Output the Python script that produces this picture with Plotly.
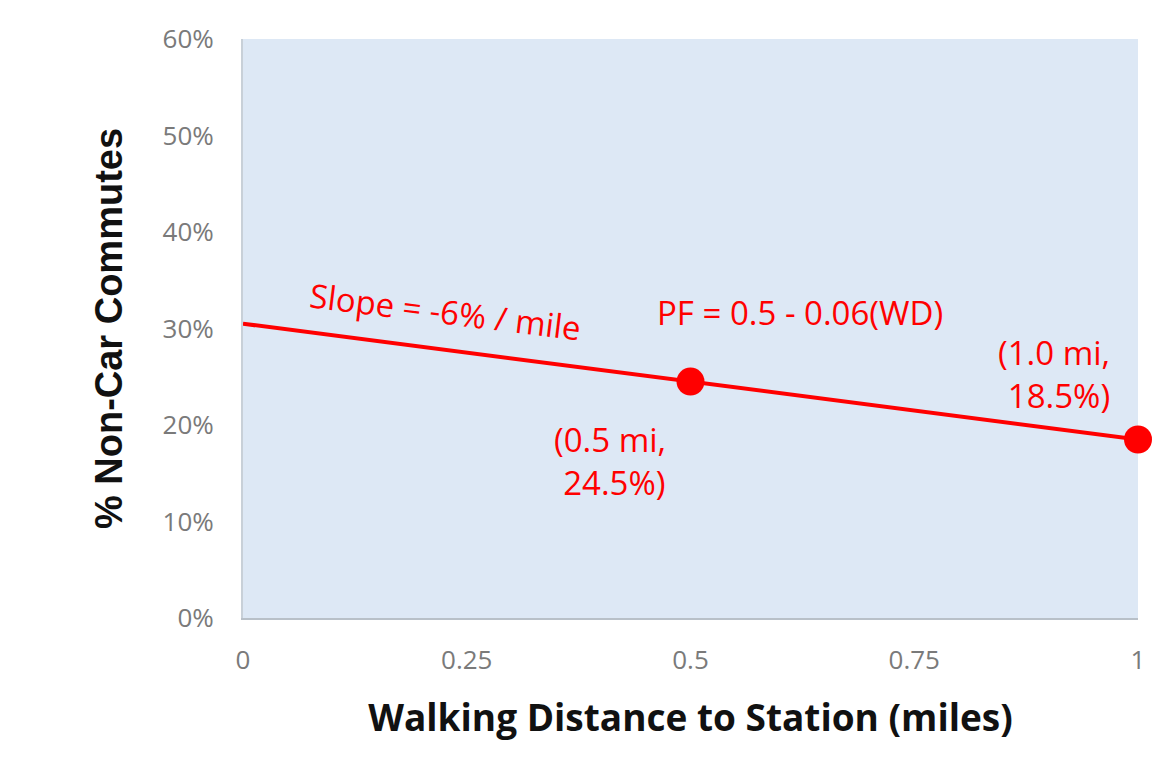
import plotly.graph_objects as go

# Data
line_x = [0, 0.5, 1.0]
line_y = [0.305, 0.245, 0.185]
point_x = [0.5, 1.0]
point_y = [0.245, 0.185]
x_ticks = [0, 0.25, 0.5, 0.75, 1]
x_tick_labels = ["0", "0.25", "0.5", "0.75", "1"]
y_ticks = [0, 0.1, 0.2, 0.3, 0.4, 0.5, 0.6]

RED = "#ff0000"
CAL = "Open Sans, Lato, sans-serif"

fig = go.Figure()
fig.add_trace(go.Scatter(x=line_x, y=line_y, mode="lines",
                         line=dict(color=RED, width=4), hoverinfo="skip",
                         cliponaxis=False, showlegend=False))
fig.add_trace(go.Scatter(x=point_x, y=point_y, mode="markers",
                         marker=dict(color=RED, size=28), cliponaxis=False,
                         showlegend=False))

ann_font = dict(family=CAL, size=33, color=RED)
fig.add_annotation(x=0.226, y=0.318, text="Slope = -6% / mile", showarrow=False,
                   textangle=7, font=ann_font, xref="x", yref="y")
fig.add_annotation(x=0.622, y=0.317, text="PF = 0.5 - 0.06(WD)", showarrow=False,
                   font=ann_font, xref="x", yref="y")
fig.add_annotation(x=0.906, y=0.253, text="(1.0 mi,<br>18.5%)", showarrow=False,
                   align="right", font=ann_font, xref="x", yref="y")
fig.add_annotation(x=0.41, y=0.163, text="(0.5 mi,<br> 24.5%)", showarrow=False,
                   align="center", font=ann_font, xref="x", yref="y")

fig.update_layout(
    width=1176, height=760,
    margin=dict(l=235, r=46, t=29, b=150),
    paper_bgcolor="white",
    plot_bgcolor="#dde8f5",
    xaxis=dict(range=[0, 1], tickvals=x_ticks, ticktext=x_tick_labels,
               showgrid=False, zeroline=False, showline=True,
               linecolor="#b8c0c8", linewidth=2,
               ticks="outside", ticklen=18, tickcolor="rgba(0,0,0,0)",
               tickfont=dict(family=CAL, size=26, color="#7a7a7a"),
               title=dict(text="<b>Walking Distance to Station (miles)</b>",
                          font=dict(family=CAL, size=37, color="#111111"),
                          standoff=29)),
    yaxis=dict(range=[0, 0.6], tickvals=y_ticks, tickformat=".0%",
               showgrid=False, zeroline=False, showline=True,
               linecolor="#c8d0d8", linewidth=2,
               ticks="outside", ticklen=22, tickcolor="rgba(0,0,0,0)",
               tickfont=dict(family=CAL, size=26, color="#7a7a7a"),
               title=dict(text="<b>% Non-Car Commutes</b>",
                          font=dict(family="Liberation Sans, Arial", size=38,
                                    color="#111111"),
                          standoff=28)),
)

fig.write_html("out.html")
